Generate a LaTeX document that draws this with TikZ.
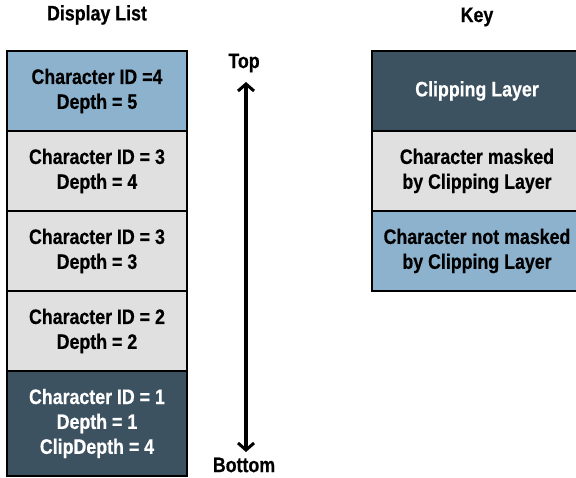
\documentclass[tikz,border=0pt]{standalone}
\usepackage{fontspec}
\setmainfont{Liberation Sans}[FakeStretch=0.85, BoldFeatures={FakeBold=0.5}]
\usetikzlibrary{positioning,arrows.meta}

\definecolor{cliplayer}{RGB}{61,82,97}
\definecolor{masked}{RGB}{224,224,224}
\definecolor{unmasked}{RGB}{140,178,206}

\tikzset{
  layer/.style={draw=black, line width=2bp, minimum width=180bp, minimum height=80bp,
                inner sep=0pt, outer sep=0pt, align=center,
                font=\fontsize{21}{25}\selectfont\bfseries},
  clipcell/.style={layer, fill=cliplayer, text=white},
  maskcell/.style={layer, fill=masked},
  freecell/.style={layer, fill=unmasked},
  title/.style={font=\fontsize{21}{25}\selectfont\bfseries, inner sep=0pt}
}

\begin{document}
\begin{tikzpicture}[x=1bp, y=-1bp]
    % Page size of the reference
    \clip (0,0) rectangle (576,478);

    % Display list, top of the stack first
    \node[title] (listtitle) at (97,15) {Display List};
    \node[freecell] (d5) at (97,91) {Character ID =4\\Depth = 5};
    \node[maskcell, below=0pt of d5] (d4) {Character ID = 3\\Depth = 4};
    \node[maskcell, below=0pt of d4] (d3) {Character ID = 3\\Depth = 3};
    \node[maskcell, below=0pt of d3] (d2) {Character ID = 2\\Depth = 2};
    \node[clipcell, below=0pt of d2, minimum height=105bp] (d1) {Character ID = 1\\Depth = 1\\ClipDepth = 4};

    % Stacking order
    \node[title] (toplbl) at (244,63) {Top};
    \node[title] (botlbl) at (244,465) {Bottom};
    \coordinate (uptip) at (246,82);
    \coordinate (downtip) at (246,452);
    \draw[line width=3.5bp, {Straight Barb[length=7bp,width=16bp,line width=3bp]}-{Straight Barb[length=7bp,width=16bp,line width=3bp]}]
        (uptip) -- (downtip);

    % Key
    \node[title] (keytitle) at (477,17) {Key};
    \node[clipcell, minimum width=210bp] (kclip) at (477,91) {Clipping Layer};
    \node[maskcell, minimum width=210bp, below=0pt of kclip] (kmask) {Character masked\\by Clipping Layer};
    \node[freecell, minimum width=210bp, below=0pt of kmask] (kfree) {Character not masked\\by Clipping Layer};
\end{tikzpicture}
\end{document}
